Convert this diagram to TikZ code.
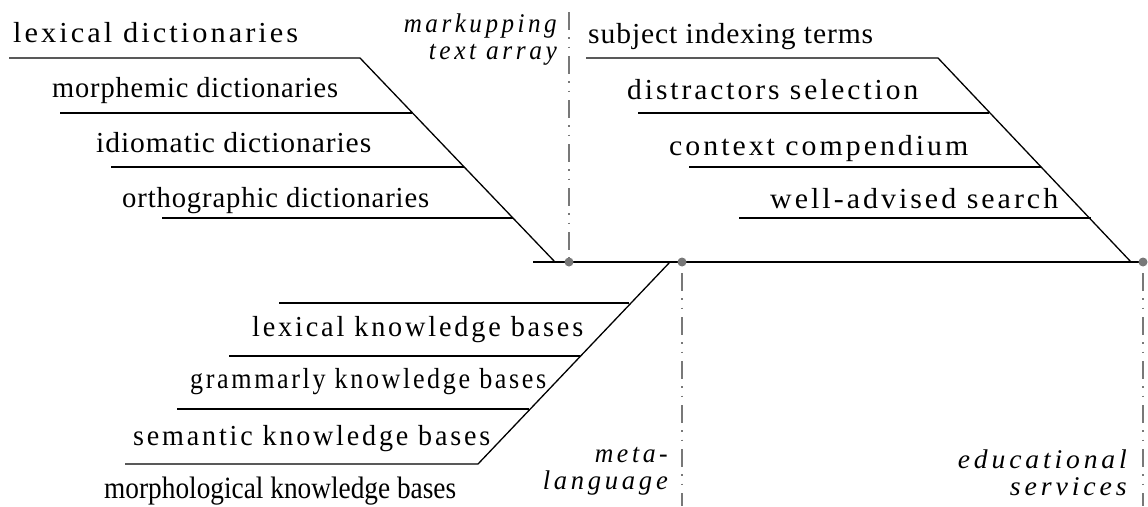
\documentclass[tikz,border=0pt]{standalone}
\usepackage{fontspec}
\setmainfont{Liberation Serif}
\newfontfamily\spA[LetterSpace=10]{Liberation Serif}
\newfontfamily\spB[LetterSpace=3]{Liberation Serif}
\newfontfamily\spI[LetterSpace=14]{Liberation Serif}
\newcommand{\fitw}[2]{\resizebox{#1pt}{\height}{#2}}
\definecolor{guidegray}{RGB}{120,120,120}
\tikzset{
  lbl/.style={inner sep=0pt, anchor=base west, font=\fontsize{29}{29}\selectfont},
  lblr/.style={inner sep=0pt, anchor=base east, font=\fontsize{27}{27}\selectfont\spI\itshape},
  bone/.style={line width=1.3pt, black},
  spine/.style={line width=1.6pt, black},
  guide/.style={guidegray, line width=1.4pt, dash pattern=on 18pt off 7pt on 1.5pt off 8pt on 1.5pt off 8pt},
  hub/.style={circle, fill=guidegray, inner sep=0pt, minimum size=9pt}
}
\begin{document}
\begin{tikzpicture}[x=1pt,y=-1pt]
\useasboundingbox (0,0) rectangle (1148,506);

% spine
\coordinate (sp0) at (533,262);
\coordinate (sp1) at (1143,262);
\draw[spine] (sp0) -- (sp1);

% upper-left bones
\coordinate (sL) at (555,262);
\coordinate (a1) at (9,58);   \coordinate (b1) at (360,58);
\coordinate (a2) at (60,113); \coordinate (b2) at (412,113);
\coordinate (a3) at (111,167);\coordinate (b3) at (464,167);
\coordinate (a4) at (162,218);\coordinate (b4) at (513,218);
\draw[bone] (a1) -- (b1) -- (sL);
\draw[bone] (a2) -- (b2);
\draw[bone] (a3) -- (b3);
\draw[bone] (a4) -- (b4);

% upper-right bones
\coordinate (sR) at (1131,262);
\coordinate (c1) at (586,58);  \coordinate (e1) at (938,58);
\coordinate (c2) at (638,113); \coordinate (e2) at (989,113);
\coordinate (c3) at (689,167); \coordinate (e3) at (1041,167);
\coordinate (c4) at (739,218); \coordinate (e4) at (1091,218);
\draw[bone] (c1) -- (e1) -- (sR);
\draw[bone] (c2) -- (e2);
\draw[bone] (c3) -- (e3);
\draw[bone] (c4) -- (e4);

% lower bones
\coordinate (sM) at (670,262);
\coordinate (f1) at (279,303); \coordinate (h1) at (629,303);
\coordinate (f2) at (229,356); \coordinate (h2) at (580,356);
\coordinate (f3) at (177,409); \coordinate (h3) at (529,409);
\coordinate (f4) at (125,464); \coordinate (h4) at (478,464);
\draw[bone] (sM) -- (h4) -- (f4);
\draw[bone] (f1) -- (h1);
\draw[bone] (f2) -- (h2);
\draw[bone] (f3) -- (h3);

% guides
\node[hub] (d1) at (569,262) {};
\node[hub] (d2) at (682,262) {};
\node[hub] (d3) at (1143,262) {};
\coordinate (g1) at (569,12);
\coordinate (g2) at (682,273);
\coordinate (g2e) at (682,506);
\coordinate (g3) at (1143,273);
\coordinate (g3e) at (1143,506);
\draw[guide] (g1) -- (d1);
\draw[guide] (g2) -- (g2e);
\draw[guide] (g3) -- (g3e);

% upper-left labels
\node[lbl] (t1) at (13,42)  {\fitw{285}{\spA lexical dictionaries}};
\node[lbl] (t2) at (52,97)  {\fitw{286}{\spB morphemic dictionaries}};
\node[lbl] (t3) at (96,152) {\fitw{275}{\spB idiomatic dictionaries}};
\node[lbl] (t4) at (122,207){\fitw{307}{\spB orthographic dictionaries}};

% upper-right labels
\node[lbl] (r1) at (588,43)  {\fitw{285}{\spB subject indexing terms}};
\node[lbl] (r2) at (627,99)  {\fitw{291}{\spA distractors selection}};
\node[lbl] (r3) at (669,155) {\fitw{299}{\spA context compendium}};
\node[lbl] (r4) at (770,208) {\fitw{288}{\spA well-advised search}};

% lower labels
\node[lbl] (k1) at (252,336) {\fitw{331}{\spA lexical knowledge bases}};
\node[lbl] (k2) at (190,388) {\fitw{356}{\spA grammarly knowledge bases}};
\node[lbl] (k3) at (133,445) {\fitw{357}{\spA semantic knowledge bases}};
\node[lbl, font=\fontsize{31}{31}\selectfont] (k4) at (104,498) {\fitw{352}{morphological knowledge bases}};

% italic labels
\node[lblr] (m1) at (557,32)  {\fitw{153}{markupping}};
\node[lblr] (m2) at (557,59)  {\fitw{128}{text array}};
\node[lblr] (n1) at (668,462) {\fitw{73}{meta-}};
\node[lblr] (n2) at (668,489) {\fitw{125}{language}};
\node[lblr] (o1) at (1127,468){\fitw{169}{educational}};
\node[lblr] (o2) at (1127,495){\fitw{117}{services}};
\end{tikzpicture}
\end{document}
